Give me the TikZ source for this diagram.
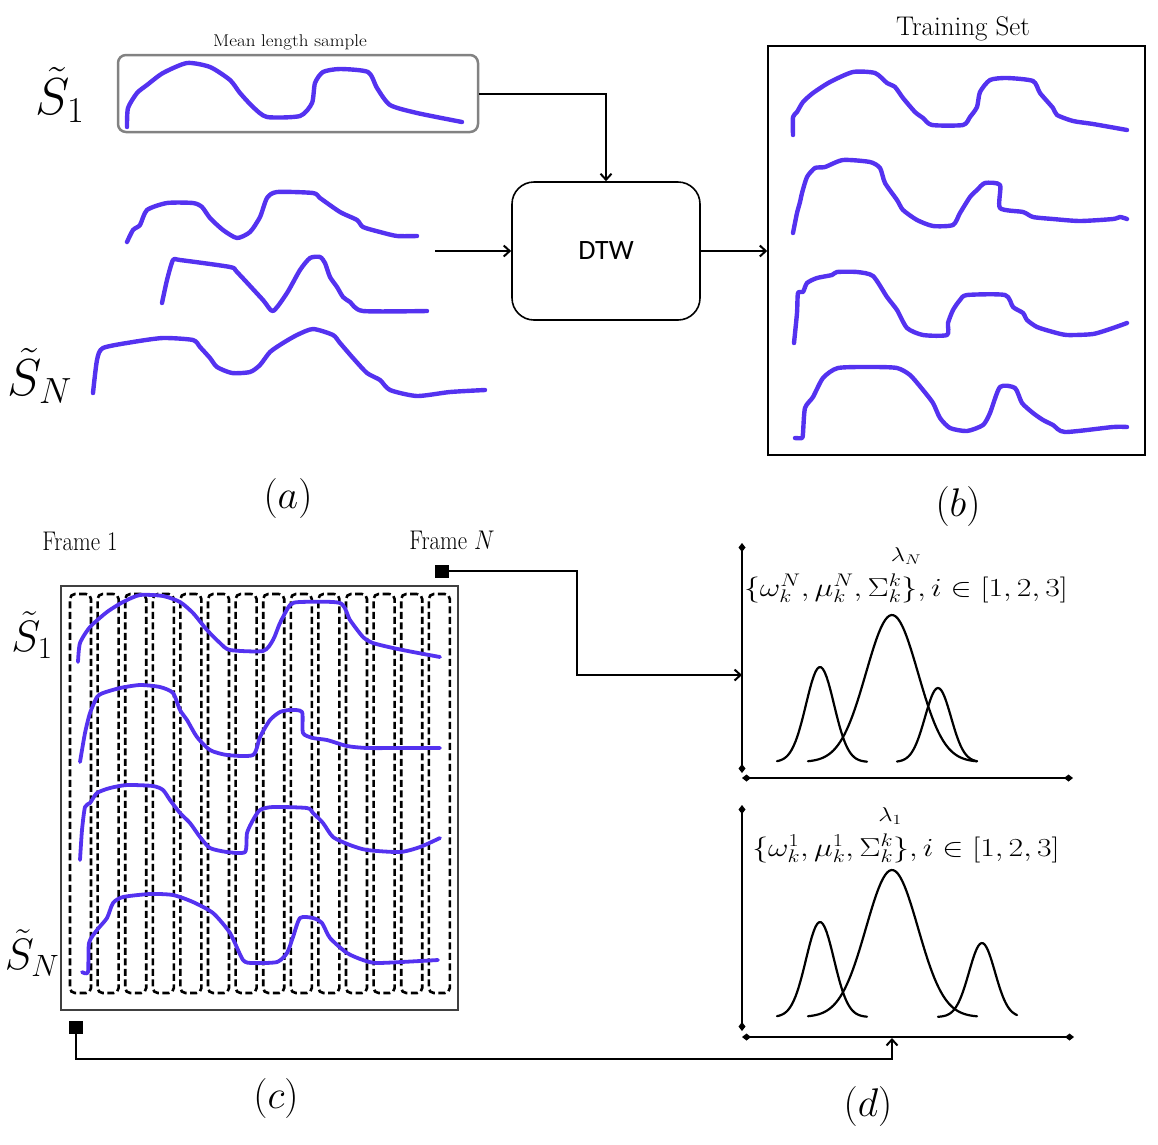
\RequirePackage{fix-cm}
\documentclass[tikz,border=0pt]{standalone}
\usepackage{fontspec}
\newfontfamily\dtwfont{Carlito}
\usetikzlibrary{arrows.meta}
\definecolor{curveblue}{RGB}{84,50,240}
\definecolor{boxgray}{RGB}{130,130,130}
\begin{document}
\begin{tikzpicture}[x=1pt,y=-1pt,
  curve/.style={curveblue, line width=4.4pt, line cap=round, line join=round},
  curveb/.style={curve, line width=3.8pt},
  conn/.style={line width=2pt, -{Straight Barb[length=6pt,width=11pt,line width=2pt]}},
  gauss/.style={line width=2.2pt, line cap=round, line join=round},
  axis/.style={line width=1.4pt, {Diamond[length=9pt,width=7pt]}-{Diamond[length=9pt,width=7pt]}},
  column/.style={draw, dashed, dash pattern=on 7pt off 3.5pt, line width=2.6pt, rounded corners=5pt, minimum width=21pt, minimum height=399pt, inner sep=0pt},
  bigmath/.style={font=\fontsize{52}{60}\selectfont},
  midmath/.style={font=\fontsize{44}{50}\selectfont},
  sublabel/.style={font=\fontsize{40}{48}\selectfont},
  framelbl/.style={font=\fontsize{27}{32}\selectfont},
  formula/.style={font=\fontsize{26}{30}\selectfont, anchor=base, inner sep=0pt},
  lam/.style={font=\fontsize{20}{24}\selectfont, anchor=base, inner sep=0pt},
  marker/.style={fill=black, minimum width=14pt, minimum height=13pt, inner sep=0pt},
  smoothc/.style={smooth, tension=0.4}
]
\useasboundingbox (0,0) rectangle (1158,1144);

% ---------------- (a) ----------------
\node[draw=boxgray, line width=2.5pt, rounded corners=8pt, minimum width=360pt, minimum height=77pt] (meanbox) at (298,93.5) {};
\node[font=\fontsize{17}{22}\selectfont] (meanlbl) at (290,42) {\scalebox{1.12}[1]{Mean length sample}};
\node[bigmath] (s1top) at (60,95) {$\tilde S_1$};
\node[bigmath] (sntop) at (40,376) {$\tilde S_N$};

\draw[curve] plot[smoothc] coordinates {(127,127) (128,108) (137,93) (147,85) (163,73) (187,63) (210,67) (230,80) (240,93) (253,107) (267,117) (300,116) (312,103) (315,83) (323,72) (340,69) (368,72) (377,88) (390,105) (417,113) (462,122)};
\draw[curve] plot[smoothc] coordinates {(127,242) (133,230) (140,225) (147,210) (167,203) (193,203) (202,207) (210,218) (223,230) (237,238) (250,232) (260,217) (267,198) (277,192) (313,193) (320,198) (340,212) (357,220) (363,227) (380,232) (397,236) (417,236)};
\draw[curve] plot[smoothc] coordinates {(162,303) (167,280) (173,260) (180,260) (230,267) (237,272) (263,300) (273,311) (287,293) (300,270) (310,258) (320,257) (325,263) (330,277) (337,287) (343,297) (350,302) (363,311) (427,311)};
\draw[curve] plot[smoothc] coordinates {(93,393) (97,360) (103,348) (133,342) (163,338) (193,340) (200,347) (210,358) (217,367) (232,373) (250,372) (260,365) (270,352) (283,343) (297,335) (313,329) (333,335) (340,343) (353,358) (367,373) (380,380) (390,390) (417,396) (450,392) (485,390)};

\node[draw, line width=1.6pt, rounded corners=22pt, minimum width=188pt, minimum height=138pt, font=\dtwfont\fontsize{28}{32}\selectfont] (dtw) at (606,251) {DTW};
\node[draw, line width=1.5pt, minimum width=377pt, minimum height=409pt] (train) at (956.5,250.5) {};
\node[font=\fontsize{27}{32}\selectfont] (trainlbl) at (963,29) {Training Set};

\coordinate (inA) at (435,251);
\draw[conn] (meanbox.east) -| (dtw.north);
\draw[conn] (inA) -- (dtw.west);
\draw[conn] (dtw.east) -- (dtw.east -| train.west);

\draw[curve] plot[smoothc] coordinates {(793,135) (793,117) (797,112) (803,102) (813,93) (830,82) (853,72) (875,73) (887,83) (895,87) (903,98) (915,112) (923,118) (932,125) (963,125) (970,117) (977,107) (980,92) (990,80) (1007,78) (1033,81) (1040,93) (1053,108) (1057,115) (1073,121) (1093,124) (1127,130)};
\draw[curve] plot[smoothc] coordinates {(793,233) (797,213) (800,202) (802,193) (807,177) (815,168) (825,167) (843,160) (870,162) (880,168) (885,183) (897,200) (903,210) (917,220) (933,226) (953,225) (960,213) (970,197) (977,190) (985,183) (1000,185) (1000,208) (1023,212) (1033,217) (1053,219) (1080,221) (1113,219) (1120,217) (1127,219)};
\draw[curve] plot[smoothc] coordinates {(794,343) (797,313) (798,293) (803,292) (807,283) (817,278) (832,275) (837,272) (857,272) (873,276) (887,297) (897,310) (907,328) (923,335) (947,335) (948,323) (953,310) (960,300) (967,295) (1005,295) (1013,307) (1023,313) (1027,320) (1037,327) (1053,332) (1067,335) (1093,334) (1113,328) (1127,323)};
\draw[curve] plot[smoothc] coordinates {(795,438) (802,438) (803,433) (805,408) (813,397) (823,378) (838,368) (873,367) (897,368) (910,375) (923,390) (933,403) (940,418) (950,428) (967,431) (983,425) (990,413) (1000,387) (1015,388) (1022,403) (1033,413) (1043,420) (1053,425) (1065,432) (1113,427) (1127,427)};

\node[sublabel] (la) at (288,498) {$(a)$};
\node[sublabel] (lb) at (958,506) {$(b)$};

% ---------------- (c) ----------------
\node[draw=black!75, line width=1.5pt, minimum width=397pt, minimum height=424pt] (frames) at (259.5,798) {};
\foreach \i in {0,...,13} {
  \node[column] (col\i) at ({80.5+\i*27.6},793.5) {};
}
\node[framelbl] (f1lbl) at (80,541) {\scalebox{0.85}[1]{Frame 1}};
\node[framelbl] (fNlbl) at (452,540) {\scalebox{0.85}[1]{Frame $N$}};
\node[midmath] (s1bot) at (32,635) {$\tilde S_1$};
\node[midmath] (snbot) at (32,953) {$\tilde S_N$};

\draw[curveb] plot[smoothc] coordinates {(78,662) (80,643) (90,627) (107,612) (123,602) (140,595) (163,596) (180,602) (193,613) (207,630) (220,643) (230,650) (263,651) (273,640) (280,623) (290,605) (300,602) (340,603) (350,620) (363,637) (373,643) (393,648) (413,652) (440,657)};
\draw[curveb] plot[smoothc] coordinates {(80,762) (85,733) (90,713) (97,697) (103,693) (120,688) (140,685) (160,687) (173,693) (180,710) (187,720) (197,737) (210,750) (227,755) (253,755) (260,737) (270,720) (280,712) (290,710) (302,712) (303,733) (313,738) (327,740) (347,746) (367,748) (400,748) (440,748)};
\draw[curveb] plot[smoothc] coordinates {(80,860) (82,830) (85,807) (90,803) (97,793) (110,788) (127,785) (153,786) (163,790) (170,800) (180,813) (190,823) (200,837) (210,848) (227,852) (245,852) (247,833) (253,820) (260,810) (273,807) (307,808) (313,813) (323,823) (333,837) (350,845) (367,850) (400,852) (420,847) (440,838)};
\draw[curveb] plot[smoothc] coordinates {(82,972) (88,972) (89,943) (97,930) (107,918) (113,903) (123,897) (150,894) (173,895) (193,902) (213,913) (230,933) (243,960) (253,963) (277,962) (287,953) (293,937) (300,918) (313,918) (322,923) (330,938) (347,953) (363,960) (377,963) (420,961) (438,960)};

\node[marker] (fN) at (442,571) {};
\node[marker] (f1) at (76,1027) {};
\node[sublabel] (lc) at (276,1098) {$(c)$};

% ---------------- (d) ----------------
\coordinate (ytopN) at (742,543);
\coordinate (ybotN) at (742,773);
\coordinate (xleftN) at (742,778);
\coordinate (xrightN) at (1073,778);
\draw[axis] (ybotN) -- (ytopN);
\draw[axis] (xleftN) -- (xrightN);
\node[lam] (lamN) at (906,561) {\scalebox{1.25}[1]{$\lambda_N$}};
\node[formula] (parN) at (906,596) {\scalebox{1.22}[1]{$\{\omega_k^N,\mu_k^N,\Sigma_k^k\}, i\in[1,2,3]$}};
\draw[gauss] plot[domain=777:867, samples=50] (\x, {762-95*exp(-((\x-820)^2)/(2*14*14))});
\draw[gauss] plot[domain=808:977, samples=80] (\x, {762-147*exp(-((\x-892)^2)/(2*26*26))});
\draw[gauss] plot[domain=897:977, samples=50] (\x, {762-74*exp(-((\x-938)^2)/(2*13*13))});

\coordinate (ytop1) at (742,805);
\coordinate (ybot1) at (742,1031);
\coordinate (xleft1) at (742,1037);
\coordinate (xright1) at (1074,1037);
\draw[axis] (ybot1) -- (ytop1);
\draw[axis] (xleft1) -- (xright1);
\node[lam] (lam1) at (890,821) {\scalebox{1.25}[1]{$\lambda_1$}};
\node[formula] (par1) at (906,856) {\scalebox{1.22}[1]{$\{\omega_k^1,\mu_k^1,\Sigma_k^k\}, i\in[1,2,3]$}};
\draw[gauss] plot[domain=777:867, samples=50] (\x, {1017-95*exp(-((\x-820)^2)/(2*14*14))});
\draw[gauss] plot[domain=808:977, samples=80] (\x, {1017-147*exp(-((\x-892)^2)/(2*26*26))});
\draw[gauss] plot[domain=938:1017, samples=50] (\x, {1017-74*exp(-((\x-982)^2)/(2*13*13))});

\node[sublabel] (ld) at (868,1106) {$(d)$};

% connectors from frames
\coordinate (kneeN) at (577,571);
\coordinate (tipN) at (742,675);
\draw[conn] (fN.east) -- (kneeN) |- (tipN);
\coordinate (kneeB) at (892,1059);
\coordinate (tipB) at (892,1038);
\draw[conn] (f1.south) |- (kneeB) -- (tipB);
\end{tikzpicture}
\end{document}
